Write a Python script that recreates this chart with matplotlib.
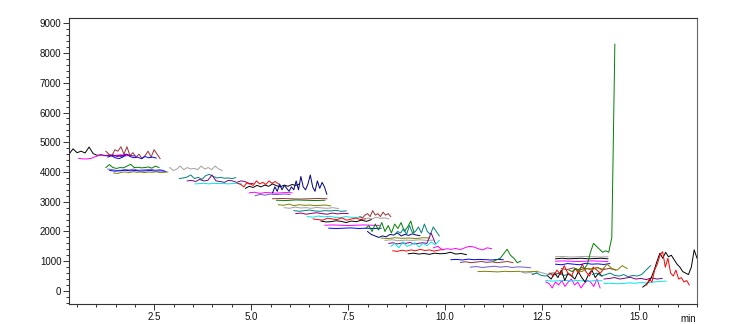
import numpy as np
import matplotlib
matplotlib.use("Agg")
from matplotlib import pyplot as plt
from matplotlib.ticker import MultipleLocator, FormatStrFormatter

# one entry per trace: start time (min), end time (min), response values
t_start = [
    0.30, 0.55, 1.25, 1.30, 1.20, 1.25, 1.30, 1.35, 1.45,
    2.90, 3.15, 3.35, 3.55, 4.65, 4.85, 4.95, 5.10, 5.55, 5.55, 5.65,
    5.70, 5.85, 6.10, 6.15, 6.45, 6.60, 6.80, 6.90, 7.00,
    7.80, 7.90, 7.95, 8.00, 8.70, 8.35, 8.45, 8.55, 8.60, 8.65, 9.05, 9.70,
    10.15, 10.40, 11.25, 10.65, 10.85, 11.95, 12.25,
    12.60, 12.60, 12.65, 12.70, 12.85, 12.85, 12.85, 12.85, 13.00, 13.40,
    13.80, 14.10, 14.10, 13.20,
    15.10, 15.20,
]
t_end = [
    1.75, 1.85, 2.65, 2.55, 2.00, 2.62, 2.75, 2.80, 2.85,
    4.25, 4.60, 5.05, 4.75, 5.70, 6.25, 6.05, 6.00, 6.95, 6.95, 6.90,
    7.05, 7.25, 7.45, 7.50, 7.85, 7.95, 8.10, 8.30, 8.35,
    8.60, 8.55, 9.20, 9.35, 9.85, 9.60, 9.70, 9.75, 9.85, 9.95, 10.55, 11.20,
    11.50, 11.75, 11.95, 12.20, 12.40, 13.00, 13.30,
    14.00, 14.05, 14.05, 14.10, 14.20, 14.20, 14.20, 14.25, 14.40, 14.70,
    15.30, 15.60, 15.70, 14.38,
    16.50, 16.30,
]
y_values = [
    [4600, 4780, 4650, 4700, 4640, 4840, 4620, 4560, 4580, 4550, 4570, 4540, 4560, 4530, 4550],
    [4460, 4440, 4440, 4460, 4520, 4560, 4550, 4560, 4540, 4560, 4580, 4540, 4560],
    [4700, 4600, 4550, 4750, 4700, 4850, 4600, 4850, 4550, 4650, 4500, 4600, 4450, 4550, 4700, 4500, 4750, 4600, 4450],
    [4500, 4550, 4480, 4450, 4500, 4600, 4520, 4480, 4500, 4450, 4520, 4480, 4500, 4470],
    [4560, 4540, 4580, 4520, 4560, 4600, 4550, 4540],
    [4150, 4250, 4150, 4120, 4150, 4140, 4200, 4260, 4150, 4160, 4140, 4150, 4170, 4130, 4200, 4150],
    [4100, 4080, 4050, 4060, 4080, 4070, 4100, 4060, 4070, 4080, 4090, 4060, 4080, 4050],
    [4050, 4030, 4040, 4060, 4040, 4050, 4030, 4040, 4050, 4030, 4040, 4020],
    [3970, 3950, 3990, 4000, 3980, 4010, 3990, 4000, 3980, 4000, 3990, 4010, 3980, 3990, 4000],
    [4150, 4050, 4100, 4200, 4080, 4150, 4100, 4120, 4080, 4200, 4100, 4150, 4080, 4200, 4100, 4050],
    [3780, 3800, 3830, 3900, 3780, 3820, 3750, 3880, 3920, 3850, 3800, 3820, 3790, 3800, 3780, 3810],
    [3700, 3720, 3680, 3750, 3700, 3720, 3900, 3700, 3680, 3650, 3720, 3700, 3650, 3700, 3680, 3600, 3620],
    [3600, 3610, 3620, 3600, 3620, 3610, 3620, 3600, 3610, 3620, 3600],
    [3620, 3580, 3500, 3650, 3600, 3550, 3700, 3600, 3650, 3580, 3700, 3620, 3680, 3600],
    [3450, 3520, 3480, 3550, 3500, 3560, 3520, 3600, 3540, 3500, 3560, 3520, 3580, 3550, 3600],
    [3300, 3320, 3280, 3310, 3300, 3290, 3300, 3310, 3300],
    [3200, 3250, 3220, 3260, 3240, 3250, 3260, 3240],
    [3300, 3500, 3350, 3600, 3400, 3550, 3450, 3350, 3500, 3400, 3700, 3400, 3850, 3500, 3400, 3600, 3900, 3500, 3350, 3700, 3450, 3650, 3500, 3250],
    [3100, 3110, 3100, 3090, 3100, 3110, 3100],
    [3050, 3040, 3060, 3050, 3040, 3050],
    [2900, 2880, 2920, 2870, 2900, 2880, 2890, 2870, 2880, 2890, 2860],
    [2800, 2780, 2820, 2790, 2800, 2780, 2810, 2790, 2780, 2800, 2770],
    [2700, 2680, 2700, 2720, 2690, 2680, 2700, 2690, 2710, 2680, 2690],
    [2600, 2620, 2580, 2610, 2630, 2600, 2580, 2620, 2590, 2610, 2600],
    [2500, 2480, 2520, 2490, 2510, 2480, 2460, 2500, 2480, 2470, 2490],
    [2420, 2400, 2380, 2450, 2420, 2400, 2460, 2380, 2420, 2450, 2400, 2430],
    [2350, 2320, 2330, 2360, 2340, 2300, 2350, 2330, 2380, 2340, 2400],
    [2210, 2220, 2210, 2200, 2210, 2220, 2210, 2200],
    [2110, 2100, 2110, 2120, 2100, 2110, 2100, 2110],
    [2500, 2450, 2550, 2600, 2500, 2700, 2550, 2600, 2500, 2650, 2550, 2600, 2500],
    [2400, 2450, 2420, 2480, 2440, 2460, 2420],
    [2100, 2200, 2000, 2250, 2050, 2300, 2000, 2200, 1950, 2250, 2100, 2300, 2000, 2150, 2350, 1950],
    [2000, 1900, 1850, 1800, 1850, 1820, 1900, 1880, 1950, 1850, 1900, 1870, 1920, 1880, 1860],
    [1900, 2000, 1950, 2100, 1900, 2200, 1950, 2000, 2150, 1950, 2250, 2000, 1900, 2150, 2000, 1850],
    [1780, 1760, 1790, 1770, 1780, 1760, 1790, 1780],
    [1700, 1720, 1690, 1710, 1700, 1720, 1700, 1710],
    [1600, 1620, 1580, 1610, 1600, 1630, 1580, 1600, 1620, 1600, 1950, 1600],
    [1500, 1600, 1450, 1650, 1500, 1550, 1620, 1480, 1600, 1520, 1650, 1550, 1700],
    [1350, 1330, 1370, 1340, 1380, 1350, 1400, 1360, 1380, 1340, 1370, 1400],
    [1250, 1270, 1240, 1260, 1230, 1270, 1250, 1260, 1300, 1240, 1260, 1220],
    [1450, 1500, 1380, 1420, 1400, 1430, 1390, 1450, 1500, 1480, 1420, 1380, 1450, 1420],
    [1050, 1060, 1040, 1070, 1050, 1060, 1050, 1040, 1060, 1050],
    [960, 980, 950, 970, 990, 960, 980, 950, 970, 990, 950],
    [1000, 1050, 1100, 1250, 1400, 1200, 1100, 950, 1000],
    [800, 820, 790, 810, 830, 800, 820, 790, 810, 800, 780],
    [650, 660, 650, 640, 660, 650, 660, 640, 650, 660],
    [650, 600, 620, 580, 640, 600, 560, 620, 590, 600],
    [550, 600, 520, 500, 580, 550, 600, 520, 560, 500],
    [300, 250, 100, 300, 200, 350, 150, 300, 400, 200, 300, 100, 250, 350, 300, 150, 400, 100],
    [350, 330, 340, 360, 330, 350, 340, 330, 350, 340],
    [500, 400, 600, 450, 700, 350, 600, 500, 400, 650, 450, 300, 550, 700, 450, 600, 500],
    [600, 500, 700, 550, 850, 600, 500, 750, 600, 900, 650, 500, 800, 700, 600, 750],
    [1150, 1160, 1140, 1150, 1160, 1150, 1140, 1150],
    [1080, 1100, 1080, 1090, 1100, 1080, 1090, 1100, 1080],
    [1000, 1010, 1000, 990, 1000, 1010, 1000, 990],
    [900, 880, 920, 900, 880, 930, 900, 910, 890, 920],
    [750, 720, 780, 700, 760, 740, 780, 720, 760, 700],
    [700, 650, 750, 700, 800, 700, 900, 750, 700, 850, 750],
    [550, 600, 500, 550, 600, 520, 500, 550, 480, 520, 500, 550, 700, 850],
    [400, 420, 450, 400, 430, 460, 400, 420, 380, 440, 400, 420],
    [250, 260, 240, 250, 270, 260, 280, 270, 300, 320, 330],
    [700, 650, 750, 700, 800, 750, 900, 1300, 1600, 1500, 1400, 1300, 1350, 1300, 1800, 8300],
    [130, 200, 300, 450, 700, 1000, 1270, 1100, 1300, 1150, 1200, 1050, 900, 800, 650, 600, 550, 800, 1380, 1100],
    [200, 400, 300, 700, 900, 1200, 1320, 800, 1100, 600, 500, 700, 400, 450, 300, 350, 200],
]

# trace colours (ChemStation-like overlay palette)
BLACK, RED, BLUE, GREEN, MAGENTA = '#000000', '#ff0000', '#0000ff', '#008000', '#ff00ff'
OLIVE, NAVY, BROWN, TEAL, GRAY = '#808000', '#000080', '#993333', '#008080', '#a0a0a0'
PURPLE, CYAN, SLATE = '#800080', '#00e5ee', '#6a5acd'
colors = [
    BLACK, MAGENTA, BROWN, BLUE, PURPLE, GREEN, SLATE, BLUE, OLIVE,
    GRAY, TEAL, PURPLE, CYAN, RED, BLACK, MAGENTA, SLATE, NAVY, BROWN, GREEN,
    OLIVE, GRAY, TEAL, PURPLE, CYAN, RED, BLACK, MAGENTA, BLUE,
    BROWN, GRAY, GREEN, NAVY, TEAL, OLIVE, GRAY, PURPLE, CYAN, RED, BLACK, MAGENTA,
    BLUE, BROWN, GREEN, SLATE, OLIVE, GRAY, TEAL,
    MAGENTA, CYAN, BLACK, RED, GRAY, BLACK, MAGENTA, BLUE, BROWN, OLIVE,
    TEAL, PURPLE, CYAN, GREEN,
    BLACK, RED,
]

plt.rcParams['font.family'] = ['Liberation Sans', 'DejaVu Sans']
fig = plt.figure(figsize=(7.56, 3.24), dpi=100)
ax = fig.add_axes([0.0913, 0.0617, 0.8307, 0.8818])

for t0, t1, ys, col in zip(t_start, t_end, y_values, colors):
    ts = np.linspace(t0, t1, len(ys))
    ax.plot(ts, ys, color=col, lw=0.7)

ax.set_xlim(0.3, 16.5)
ax.set_ylim(-440, 9170)

ax.xaxis.set_major_locator(MultipleLocator(2.5))
ax.xaxis.set_minor_locator(MultipleLocator(0.5))
ax.xaxis.set_major_formatter(FormatStrFormatter('%.1f'))
ax.yaxis.set_major_locator(MultipleLocator(1000))
ax.yaxis.set_minor_locator(MultipleLocator(200))

ax.tick_params(which='major', length=4, width=0.7, labelsize=7, pad=1.5, colors='#333333')
ax.tick_params(which='minor', length=2, width=0.7, colors='#333333')
ax.tick_params(labelcolor='#111111')

for side in ['left', 'top', 'bottom']:
    ax.spines[side].set_color('#333333')
    ax.spines[side].set_linewidth(0.8)
ax.spines['right'].set_color('#666666')
ax.spines['right'].set_linewidth(0.8)

ax.annotate('min', xy=(16.28, 0), xycoords=('data', 'axes fraction'),
            xytext=(0, -7.5), textcoords='offset points',
            ha='center', va='top', fontsize=7, color='#111111')

plt.savefig('out.png', dpi=100)
plt.close()
